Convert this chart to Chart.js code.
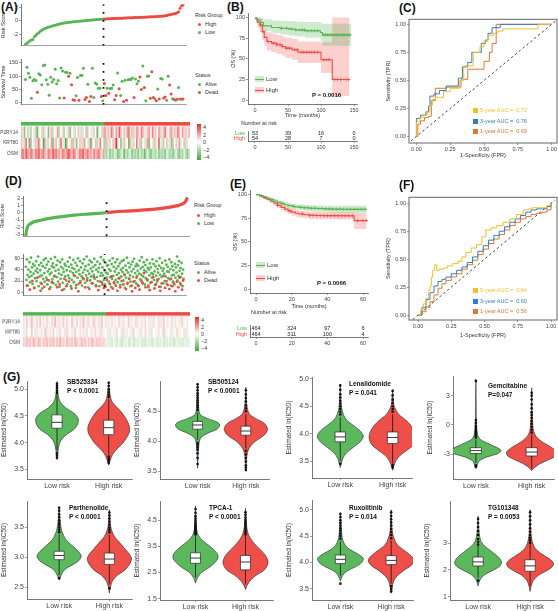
<!DOCTYPE html>
<html>
<head>
<meta charset="utf-8">
<script src="https://cdn.jsdelivr.net/npm/chart.js@4.4.1/dist/chart.umd.min.js"></script>
<style>
  body { margin: 0; background: #fff; }
  #fig { position: relative; width: 558px; height: 611px; overflow: hidden; background: #fff;
         font-family: "Liberation Sans", Arial, sans-serif; color: #222; }
  #fig canvas { position: absolute; }
  .t { position: absolute; white-space: pre; line-height: 1; }
  .panel { font-weight: bold; font-size: 12px; color: #111; }
  .lg { font-size: 5.5px; color: #333; }
  .dot { position: absolute; width: 3px; height: 3px; border-radius: 50%; }
  .sq { position: absolute; width: 5px; height: 5px; }
  .drug { font-weight: bold; font-size: 6.5px; color: #111; line-height: 9px; }
</style>
</head>
<body>
<div id="fig"></div>
<script>
// ---------- panel A: training cohort, 107 patients sorted by risk score ----------
const nLowA = 53
const riskA = [-3.5, -3.35, -3.2, -3.0, -2.9, -2.8, -2.4, -2.2, -1.95, -1.8, -1.6, -1.45, -1.3, -1.2, -1.1, -1.0,
  -0.95, -0.9, -0.8, -0.75, -0.7, -0.62, -0.55, -0.5, -0.45, -0.4, -0.36, -0.32, -0.29, -0.26, -0.24, -0.22,
  -0.2, -0.17, -0.15, -0.12, -0.1, -0.08, -0.06, -0.04, -0.02, 0.0, 0.02, 0.04, 0.06, 0.08, 0.1, 0.12, 0.14,
  0.16, 0.18, 0.2, 0.22,
  0.23, 0.24, 0.25, 0.26, 0.27, 0.28, 0.29, 0.3, 0.31, 0.32, 0.33, 0.34, 0.35, 0.36, 0.37, 0.38, 0.39, 0.4,
  0.41, 0.42, 0.43, 0.44, 0.45, 0.46, 0.47, 0.48, 0.49, 0.5, 0.51, 0.52, 0.53, 0.54, 0.55, 0.56, 0.57, 0.58,
  0.6, 0.62, 0.64, 0.66, 0.68, 0.7, 0.75, 0.8, 0.85, 0.9, 0.95, 1.0, 1.05, 1.15, 1.3, 1.8, 2.2, 2.3]
const survA = [88, 134, 111, 96, 17, 83, 88, 84, 40, 109, 105, 68, 140, 142, 87, 70, 29, 96, 78, 88,
  126, 72, 84, 18, 131, 120, 18, 115, 114, 100, 111, 68, 12, 10, 27, 95, 10, 103, 104, 130,
  13, 20, 70, 5, 24, 130, 20, 75, 70, 55, 55, 24, 8,
  73, 28, 55, 36, 54, 55, 67, 12, 28, 112, 53, 28, 81, 5, 85, 10, 87, 89, 88, 93,
  20, 90, 72, 82, 97, 50, 138, 58, 8, 100, 101, 17, 117, 20, 16, 8, 52, 15, 92, 90,
  18, 22, 10, 100, 67, 33, 16, 13, 10, 14, 58, 15, 14, 15]
const deadA = [0, 0, 0, 0, 0, 0, 0, 0, 1, 0, 0, 0, 0, 0, 0, 0, 0, 0, 0, 0, 0, 0, 0, 0, 0, 0, 1, 0, 0, 1,
  0, 1, 1, 1, 0, 0, 1, 0, 0, 0, 1, 1, 0, 1, 1, 0, 0, 0, 0, 0, 0, 1, 0,
  1, 1, 0, 1, 0, 0, 0, 1, 1, 0, 1, 0, 0, 1, 0, 1, 0, 0, 0, 0, 1, 0, 0, 0, 1, 1, 0, 1, 0, 0,
  0, 1, 1, 1, 0, 1, 0, 1, 0, 0, 1, 1, 0, 0, 1, 1, 0, 1, 0, 1, 0, 1, 0, 1]
const genes = ['P2RY14', 'KRT80', 'OSM']
const p2ry14A = [-1, 0.5, -2, 0, 1, -0.5, -1.5, 0, 0.5, -1, -2.5, 0.5, 0, -1, 1, -0.5, 0, -2, 0.5, 1, -1, 0, -0.5,
  1.5, -1, 0, 0.5, -1.5, 0, -0.5, 1, -2, 0, 0.5, -1, 0, 1, -0.5, -1, 0.5, 0, -1.5, 1, 0, -0.5, 0.5, -1, 0, -2.5,
  0.5, 0, -1, 1,
  1.5, 0.5, 1, -0.5, 2, 1, 0, 1.5, 0.5, 2.5, 1, 0, 1, -0.5, 1.5, 2, 0.5, 1, -1, 0.5, 1.5, 1, 0, 2, 1, 0.5, -0.5,
  1, 1.5, 0, 2, 0.5, 1, 0, 1.5, -1, 0.5, 1, 2, 0.5, 0, 1, 1.5, -0.5, 1, 0.5, 2, 1, 0, 1.5, 0.5, 1, -0.5, 1]
const krt80A = [1, 0.5, -1, 2, 0, -2.5, 1.5, 0, 0.5, -1, 1, 2, -0.5, 0, -3, 1, 0.5, -1, 0, 1.5, -2, 0.5, 1, 0, -1,
  2, 0.5, -0.5, -3, 1, 0, 0.5, -1.5, 1, 0.5, -2, 0, 1, 0.5, -1, 1.5, 0, -0.5, 1, -2.5, 0.5, 0, 1, -1, 0.5, 2, 0, -1,
  -1.5, 1, 0.5, -1, 0, 1, 0.5, 3.5, -1, 0, -2, 0.5, 1, -0.5, 0, -2.5, 1, 0.5, -1, 0, 2, -0.5, 1, -1.5, 0, 0.5,
  -1, 1.5, -2, 0, 0.5, 1, -1, 0, 2.5, -0.5, 0.5, -1.5, 0, 1, -0.5, 0.5, -2, 1, 0, -1, 0.5, 1.5, -0.5, 0, 1, -1, 0.5, 0]
const osmA = [1.5, 2, 1, 2.5, 1.5, 1, 2, 1.5, 0.5, 2, 1.5, 2.5, 1, 1.5, 2, 1, 0.5, 2, 1.5, 1, 2.5, 1.5, 2, 1, 1.5,
  0.5, 2, 1.5, 1, 2, 2.5, 1.5, 1, 2, 1.5, 0.5, 1, 2, 1.5, 2.5, 1, 1.5, 2, 1, 1.5, 0.5, 2, 1, 1.5, 2, 1, 0.5, 1.5,
  -1, -1.5, -0.5, -2, -1, -1.5, -0.5, -1, -2, -1.5, -1, -0.5, -2.5, -1, -1.5, -1, -0.5, -2, -1, -1.5, -1, -2,
  -0.5, -1.5, -1, -2.5, -1, -0.5, -1.5, -2, -1, -1, -1.5, -0.5, -2, -1, -1.5, -1, -2, -0.5, -1, -1.5, -1, -2, -1,
  -0.5, -1.5, -2, -1, -1.5, -0.5, -1, -2, -1]

// ---------- panel D: validation cohort, 928 patients ----------
const nLowD = 464
const nAllD = 928
const riskRankLowD = [1, 3, 9, 28, 93, 186, 278, 371, 464]
const riskLowD = [-3.3, -2.8, -2.05, -1.5, -1.0, -0.6, -0.32, -0.16, 0.0]
const riskRankHighD = [465, 557, 650, 742, 817, 872, 900, 919, 928]
const riskHighD = [0.02, 0.2, 0.33, 0.5, 0.73, 0.98, 1.2, 1.6, 2.1]
// survival (months) of alive patients, every third rank starting at rank 2
const aliveD = [45, 22, 58, 31, 12, 40, 27, 53, 18, 36, 61, 29, 44, 15, 50, 33, 8, 47, 25, 38,
  55, 20, 42, 35, 63, 11, 48, 28, 39, 17, 52, 30, 7, 46, 24, 57, 34, 19, 43, 60,
  26, 49, 14, 37, 54, 21, 41, 32, 9, 59, 35, 46, 23, 51, 16, 44, 29, 62, 38, 13,
  48, 27, 56, 19, 40, 33, 10, 53, 24, 45, 31, 58, 17, 42, 36, 6, 50, 28, 47, 21,
  39, 14, 54, 30, 45, 25, 61, 37, 11, 49, 22, 43, 34, 57, 18, 41, 29, 52, 8, 36,
  47, 26, 60, 15, 39, 32, 55, 20, 44, 28, 12, 51, 35, 23, 58, 40, 17, 46, 30, 63,
  25, 38, 9, 49, 33, 56, 21, 42, 28, 53, 37, 16, 45, 31, 59, 24, 48, 13, 40, 27,
  54, 20, 36, 43, 11, 50, 29, 62, 34, 18, 44, 30, 57, 22, 39, 14, 52, 35, 26, 47,
  33, 48, 19, 41, 56, 27, 38, 10, 50, 24, 60, 29, 45, 16, 37, 53, 22, 42, 31, 58,
  18, 46, 34, 25, 51, 13, 40, 28, 55, 36, 43, 21, 57, 32, 8, 47, 26, 39, 61, 15,
  35, 52, 24, 44, 30, 19, 49, 37, 12, 54, 27, 41, 59, 20, 34, 46, 16, 50, 29, 38,
  47, 11, 33, 56, 23, 42, 31, 62, 18, 45, 28, 53, 39, 14, 48, 25, 36, 57, 21, 43,
  9, 40, 30, 51, 17, 44, 34, 26, 58, 32, 50, 22, 37, 13, 46, 29, 55, 19, 41, 35,
  24, 47, 60, 31, 10, 43, 27, 52, 38, 16, 42, 33, 20, 56, 28, 49, 15, 37, 45, 25,
  36, 58, 23, 41, 12, 53, 30, 46, 19, 39, 31, 14, 50, 26, 44, 35, 63, 21, 48, 29,
  55, 38, 17, 43, 27, 52, 33, 11, 40, 24]
const deadRankD = [8, 25, 40, 52, 70, 88, 95, 110, 128, 140, 155, 170, 186, 200, 215, 228, 240, 255, 270, 285,
  298, 310, 322, 338, 350, 362, 375, 390, 402, 415, 428, 440, 452, 460,
  470, 478, 486, 495, 505, 512, 520, 530, 540, 548, 556, 565, 575, 582, 590, 600, 610, 618, 626, 635,
  645, 652, 660, 670, 680, 688, 696, 705, 715, 722, 730, 740, 750, 758, 766, 775, 785, 792, 800, 810,
  820, 828, 836, 845, 855, 862, 870, 880, 890, 898, 905, 912, 920, 926]
const deadTimeD = [12, 5, 20, 8, 26, 3, 15, 10, 22, 6, 18, 28, 9, 14, 4, 24, 11, 19, 7, 30,
  13, 2, 17, 25, 9, 21, 6, 16, 27, 11, 4, 19, 14, 8,
  10, 22, 4, 15, 28, 7, 18, 12, 3, 25, 9, 20, 14, 31, 6, 17, 24, 11, 2, 19,
  8, 26, 13, 5, 21, 16, 34, 9, 23, 12, 4, 18, 27, 7, 14, 22, 10, 3, 16, 29,
  8, 20, 13, 6, 24, 11, 17, 2, 19, 9, 26, 14, 5, 21]
// heatmap columns, each column = 8 neighbouring patients
const p2ry14D = [0.5, 0.2, 0.8, 0, 0.4, 1, 0.3, -0.3, 0.6, 0.2, 0.9, 0.1, 0.5, -0.2, 0.7, 0.3, 0, 0.6, 0.4, 1.1,
  0.2, 0.5, -0.4, 0.3, 0.8, 0.1, 0.6, 0.3, 0, 0.9, 0.4, 0.2, 0.7, -0.2, 0.5, 0.3, 1, 0.1, 0.4, 0.6,
  0.2, -0.3, 0.8, 0.4, 0.1, 0.6, 0.3, 0.9, 0, 0.5,
  0.3, -0.5, 0.2, 0.6, -0.2, 0.4, 0, 0.7, -0.4, 0.3, 0.5, -0.1, 0.2, 0.8, -0.3, 0.4, 0.1, 0.6, -0.6, 0.3,
  0.2, 0.5, -0.2, 0.7, 0, 0.4, -0.4, 0.3, 0.6, -0.1, 0.2, 0.5, -0.5, 0.3, 0.8, 0, 0.4, -0.3, 0.2, 0.6,
  -0.2, 0.5, 0.1, 0.3, -0.4, 0.7, 0.2, 0, 0.4, -0.1]
const krt80D = [0.3, -0.4, 0.6, 0, -0.2, 0.8, 0.1, -0.6, 0.4, 0.2, -0.3, 0.5, 0, 0.9, -0.5, 0.2, 0.4, -0.2, 0.7, 0,
  -0.4, 0.3, 0.6, -0.1, 0.2, 0.5, -0.7, 0.3, 0, 0.4, -0.3, 0.8, 0.1, -0.2, 0.5, 0.2, -0.5, 0.3, 0.6, 0,
  -0.3, 0.4, 0.1, 0.7, -0.2, 0.3, -0.6, 0.5, 0.2, 0,
  -0.3, 0.4, -0.6, 0.1, 0.3, -0.4, 0.6, 0, -0.2, 0.5, -0.7, 0.2, 0.4, -0.1, 0.3, -0.5, 0.7, 0, -0.3, 0.2,
  0.5, -0.4, 0.1, 0.6, -0.2, 0.3, -0.6, 0.4, 0, 0.2, -0.3, 0.5, -0.1, 0.3, 0.8, -0.4, 0.2, 0, -0.5, 0.4,
  0.1, -0.2, 0.6, -0.3, 0.2, 0, 0.4, -0.6, 0.3, 0.1]
const osmD = [0.8, 0.5, 1, 0.6, 0.9, 0.4, 1.2, 0.7, 0.5, 1, 0.8, 0.3, 0.9, 0.6, 1.1, 0.5, 0.8, 0.7, 1, 0.4,
  0.9, 0.6, 1.2, 0.5, 0.8, 0.3, 1, 0.7, 0.6, 0.9, 0.5, 1.1, 0.8, 0.4, 0.7, 1, 0.6, 0.9, 0.3, 0.8,
  0.5, 1, 0.7, 0.4, 0.9, 0.6, 0.8, 0.5, 0.7, 0.4,
  -0.3, -0.6, -0.4, -0.8, -0.2, -0.5, -0.7, -0.3, -0.6, -0.9, -0.4, -0.5, -0.2, -0.7, -0.6, -0.3, -0.8, -0.5, -0.4, -0.6,
  -0.2, -0.7, -0.5, -0.9, -0.3, -0.6, -0.4, -0.8, -0.5, -0.3, -0.7, -0.4, -0.6, -0.2, -0.8, -0.5, -0.6, -0.3, -0.7, -0.4,
  -0.9, -0.5, -0.3, -0.6, -0.4, -0.7, -0.5, -0.3, -0.6, -0.4]

// ---------- panel B / E: Kaplan-Meier ----------
const kmTimeLowB = [0, 2.5, 7.6, 12.7, 25, 38, 51, 61, 76, 99, 102, 146]
const kmLowB = [100, 97, 94, 90, 88, 87, 86, 85, 84, 82, 79, 79]
const kmLowUpB = [100, 100, 99.5, 98, 96.5, 96, 95.5, 95, 94.5, 93.5, 92.5, 92.5]
const kmLowLoB = [100, 93, 88.5, 84, 81, 79.5, 78, 77, 75.5, 72, 66, 66]
const kmTimeHighB = [0, 1.5, 4, 7.6, 11, 14, 18, 25, 33, 41, 46, 56, 65, 100, 117, 143]
const kmHighB = [100, 98, 94, 91, 83, 76, 71, 69, 67, 65, 63, 61, 58, 49, 25, 25]
const kmHighUpB = [100, 100, 99.5, 98, 92, 86, 82, 80, 78.5, 77, 75.5, 74, 71, 70, 100, 100]
const kmHighLoB = [100, 94, 87, 83, 73, 66, 60, 58, 56, 54, 51, 49, 45, 33, 5, 5]
const censorLowB = [40, 48, 55, 62, 68, 72, 75, 80, 85, 90, 95, 104, 107, 110, 113, 116, 120, 123, 126, 130, 133, 136, 140, 143]
const censorHighB = [8, 12, 20, 28, 33, 38, 42, 48, 52, 60, 64, 70, 74, 78, 82, 86, 90, 95, 104, 108, 112, 120, 125, 130, 138, 142]
const riskTimesB = [0, 50, 100, 150]
const atRiskLowB = [53, 39, 16, 0]
const atRiskHighB = [54, 28, 7, 0]

const kmTimeE = [0, 2, 4, 6, 8, 10, 12, 14, 16, 18, 20, 22, 24, 27, 30, 34, 38, 42, 48, 62]
const kmLowE = [100, 98.8, 97.5, 96, 94.8, 93.2, 91.8, 90.5, 89.2, 88.3, 87.6, 87, 86.6, 86, 85.6, 85.2, 84.9, 84.6, 84.4, 84.4]
const kmLowUpE = [100, 99.6, 98.8, 97.6, 96.6, 95.2, 94, 92.9, 91.8, 91, 90.4, 89.9, 89.6, 89.1, 88.8, 88.5, 88.3, 88.1, 88.1, 88.1]
const kmLowLoE = [100, 97.8, 96.1, 94.3, 92.9, 91.2, 89.6, 88.1, 86.6, 85.6, 84.8, 84.1, 83.6, 82.9, 82.4, 81.9, 81.5, 81.1, 80.7, 80.7]
const kmTimeHighE = [0, 2, 4, 6, 8, 10, 12, 14, 16, 18, 20, 22, 24, 27, 30, 34, 38, 45, 55, 62]
const kmHighE = [100, 98.5, 96.8, 95, 93, 90.8, 88.6, 86.5, 84.6, 82.8, 81.4, 80.2, 79.4, 78.6, 78.1, 77.8, 77.7, 77.6, 72.5, 72.5]
const kmHighUpE = [100, 99.5, 98.3, 96.9, 95.2, 93.3, 91.3, 89.4, 87.7, 86.1, 84.9, 83.8, 83, 82.3, 81.9, 81.6, 81.5, 81.6, 80.8, 80.8]
const kmHighLoE = [100, 97.4, 95.2, 93.1, 90.8, 88.3, 85.9, 83.6, 81.5, 79.5, 78, 76.6, 75.8, 74.9, 74.3, 74, 73.9, 73.6, 63.5, 63.5]
const censorLowE = [3, 9, 15, 21, 25, 27, 29, 31, 33, 35, 37, 39, 41, 43, 45, 47, 49, 51, 53, 55, 57, 59, 61]
const censorHighE = [5, 12, 19, 26, 30, 32, 34, 36, 38, 40, 42, 44, 46, 48, 50, 52, 54, 57, 60, 62]
const riskTimesE = [0, 20, 40, 60]
const atRiskLowE = [464, 324, 97, 6]
const atRiskHighE = [464, 311, 100, 4]

// ---------- panel C / F: time-dependent ROC ----------
const rocLabels = ['5-year AUC =  0.72', '3-year AUC =  0.76', '1-year AUC =  0.69']
const rocLabelsF = ['5-year AUC =  0.64', '3-year AUC =  0.60', '1-year AUC =  0.56']
const fpr5C = [0, 0, 0.02, 0.05, 0.08, 0.1, 0.12, 0.14, 0.2, 0.25, 0.32, 0.35, 0.42, 0.47, 0.5, 0.53, 0.57, 0.6, 0.64, 0.9, 1]
const tpr5C = [0, 0.13, 0.17, 0.19, 0.22, 0.28, 0.33, 0.35, 0.4, 0.43, 0.5, 0.63, 0.75, 0.8, 0.85, 0.9, 0.92, 0.94, 0.96, 1, 1]
const fpr3C = [0, 0, 0.02, 0.03, 0.07, 0.09, 0.1, 0.13, 0.17, 0.22, 0.31, 0.34, 0.38, 0.41, 0.48, 0.51, 0.53, 0.56, 0.62, 1]
const tpr3C = [0, 0.16, 0.16, 0.19, 0.22, 0.27, 0.36, 0.38, 0.41, 0.45, 0.52, 0.62, 0.66, 0.75, 0.83, 0.86, 0.92, 0.97, 1, 1]
const fpr1C = [0, 0.01, 0.03, 0.06, 0.09, 0.11, 0.14, 0.22, 0.31, 0.33, 0.38, 0.47, 0.5, 0.54, 0.56, 0.59, 1]
const tpr1C = [0, 0.11, 0.14, 0.17, 0.18, 0.32, 0.43, 0.44, 0.44, 0.51, 0.6, 0.6, 0.67, 0.75, 0.83, 1, 1]
const fpr5F = [0, 0.02, 0.04, 0.06, 0.08, 0.09, 0.1, 0.11, 0.125, 0.14, 0.16, 0.19, 0.22, 0.26, 0.3, 0.33, 0.36, 0.4,
  0.44, 0.48, 0.51, 0.55, 0.59, 0.64, 0.69, 0.74, 0.79, 0.83, 0.86, 0.9, 0.94, 0.97, 1]
const tpr5F = [0, 0.05, 0.1, 0.15, 0.22, 0.26, 0.34, 0.4, 0.45, 0.4, 0.41, 0.42, 0.44, 0.46, 0.48, 0.52, 0.56, 0.6,
  0.63, 0.7, 0.76, 0.78, 0.8, 0.83, 0.86, 0.9, 0.94, 0.95, 0.96, 0.96, 0.96, 0.98, 1]
const fprF = [0, 0.03, 0.06, 0.09, 0.12, 0.15, 0.18, 0.21, 0.25, 0.29, 0.33, 0.37, 0.41, 0.45, 0.49, 0.53, 0.57,
  0.61, 0.65, 0.69, 0.73, 0.77, 0.81, 0.85, 0.89, 0.93, 0.97, 1]
const tpr3F = [0, 0.07, 0.14, 0.2, 0.26, 0.3, 0.32, 0.34, 0.37, 0.4, 0.43, 0.47, 0.52, 0.57, 0.62, 0.67, 0.71,
  0.75, 0.79, 0.83, 0.86, 0.89, 0.92, 0.94, 0.95, 0.95, 0.97, 1]
const tpr1F = [0, 0.03, 0.07, 0.12, 0.18, 0.24, 0.28, 0.31, 0.34, 0.37, 0.41, 0.45, 0.49, 0.54, 0.59, 0.64, 0.68,
  0.72, 0.76, 0.8, 0.83, 0.86, 0.88, 0.9, 0.91, 0.92, 0.94, 1]

// ---------- panel G: drug sensitivity violins ----------
// y/w = density outline (height, half width), box = [lower whisker, q1, median, q3, upper whisker]
const groupLabels = ['Low risk', 'High risk']
const drugNames = ['SB525334', 'SB505124', 'Lenalidomide', 'Gemcitabine', 'Parthenolide', 'TPCA-1', 'Ruxolitinib', 'TG101348']
const drugP = ['P < 0.0001', 'P < 0.0001', 'P = 0.041', 'P=0.047', 'P < 0.0001', 'P < 0.0001', 'P = 0.014', 'P = 0.0053']
const drugTicks = [[3.5, 4.0, 4.5, 5.0], [3.5, 4.0, 4.5], [3.5, 4.0, 4.5, 5.0], [-3, 0, 3],
  [2.5, 3.0, 3.5], [1.5, 2.5, 3.5, 4.5], [3.5, 4.0, 4.5, 5.0], [1, 2, 3]]
const sb525334 = {
  low: { y: [3.68, 3.85, 3.95, 4.05, 4.15, 4.25, 4.35, 4.45, 4.55, 4.65, 4.75, 4.85, 5.0, 5.15],
         w: [0, 0.02, 0.04, 0.08, 0.18, 0.33, 0.4, 0.41, 0.33, 0.17, 0.07, 0.03, 0.01, 0],
         box: [3.85, 4.27, 4.38, 4.52, 4.9], out: [3.72, 3.76, 3.8, 4.93, 4.97, 5.02, 5.06, 5.1] },
  high: { y: [3.58, 3.7, 3.8, 3.9, 4.0, 4.1, 4.2, 4.3, 4.4, 4.5, 4.6, 4.7, 4.8, 5.0, 5.15],
          w: [0, 0.04, 0.09, 0.18, 0.28, 0.35, 0.4, 0.4, 0.36, 0.3, 0.22, 0.12, 0.05, 0.01, 0],
          box: [3.78, 4.15, 4.28, 4.42, 4.82], out: [3.62, 3.66, 3.7, 3.74, 4.86, 4.9, 4.95, 5.0, 5.06, 5.12] }
}
const sb505124 = {
  low: { y: [3.55, 3.75, 3.9, 4.05, 4.13, 4.2, 4.27, 4.32, 4.38, 4.45, 4.6, 4.9, 4.97],
         w: [0, 0.01, 0.02, 0.06, 0.2, 0.4, 0.46, 0.4, 0.2, 0.05, 0.02, 0.005, 0],
         box: [4.02, 4.2, 4.27, 4.33, 4.48],
         out: [3.62, 3.72, 3.8, 3.86, 3.9, 3.94, 3.97, 4.52, 4.56, 4.6, 4.64, 4.68, 4.72, 4.76, 4.8, 4.85, 4.9, 4.95] },
  high: { y: [3.5, 3.65, 3.8, 3.9, 4.0, 4.1, 4.2, 4.3, 4.38, 4.45, 4.55, 4.7, 4.9],
          w: [0, 0.01, 0.03, 0.08, 0.2, 0.38, 0.45, 0.38, 0.2, 0.08, 0.03, 0.01, 0],
          box: [3.88, 4.1, 4.17, 4.25, 4.45],
          out: [3.52, 3.56, 3.6, 3.66, 3.72, 3.78, 3.84, 4.5, 4.55, 4.6, 4.66, 4.72, 4.78, 4.85] }
}
const lenalidomide = {
  low: { y: [3.38, 3.45, 3.55, 3.65, 3.75, 3.85, 3.95, 4.05, 4.15, 4.25, 4.35, 4.5, 4.7, 4.9],
         w: [0, 0.02, 0.05, 0.12, 0.25, 0.38, 0.44, 0.38, 0.25, 0.12, 0.06, 0.02, 0.008, 0],
         box: [3.5, 3.85, 3.94, 4.03, 4.3], out: [3.45, 4.35, 4.4, 4.45, 4.5, 4.55, 4.6, 4.66, 4.72, 4.8, 4.88] },
  high: { y: [3.33, 3.4, 3.5, 3.6, 3.7, 3.8, 3.93, 4.05, 4.15, 4.25, 4.35, 4.5, 4.65, 4.8],
          w: [0, 0.02, 0.06, 0.14, 0.28, 0.4, 0.45, 0.42, 0.35, 0.25, 0.12, 0.03, 0.01, 0],
          box: [3.45, 3.82, 3.93, 4.03, 4.35], out: [3.38, 3.42, 4.4, 4.45, 4.5, 4.56, 4.62, 4.7, 4.78] }
}
const gemcitabine = {
  low: { y: [-4.5, -4.2, -3.7, -3.3, -3.0, -2.7, -2.5, -2.0, -1.5, -1.0, 0, 2, 4.7],
         w: [0, 0.02, 0.06, 0.2, 0.38, 0.45, 0.43, 0.25, 0.08, 0.03, 0.01, 0.005, 0],
         box: [-3.9, -2.95, -2.65, -2.35, -1.5], out: [-4.3, -4.15, -1.3, -1.1, -0.9, -0.7, -0.5, -0.3, -0.1, 0.2, 0.5, 4.5] },
  high: { y: [-4.7, -4.4, -4.0, -3.6, -3.2, -2.8, -2.3, -1.8, -1.2, -0.5, 1, 3.8],
          w: [0, 0.05, 0.15, 0.3, 0.43, 0.45, 0.35, 0.2, 0.08, 0.03, 0.01, 0],
          box: [-4.5, -3.2, -2.8, -2.35, -1.0], out: [-0.8, -0.5, -0.2, 0.1, 0.4, 0.7, 1.0, 1.3, 1.7, 2.1, 2.6, 3.0, 3.3] }
}
const parthenolide = {
  low: { y: [2.62, 2.72, 2.8, 2.88, 2.95, 3.02, 3.1, 3.2, 3.3, 3.45, 3.6, 3.85],
         w: [0, 0.05, 0.12, 0.28, 0.4, 0.44, 0.38, 0.25, 0.13, 0.05, 0.02, 0],
         box: [2.7, 2.96, 3.03, 3.1, 3.38], out: [2.65, 3.42, 3.46, 3.5, 3.54, 3.58, 3.62, 3.67, 3.72, 3.78, 3.83] },
  high: { y: [2.4, 2.5, 2.6, 2.7, 2.78, 2.88, 2.97, 3.05, 3.15, 3.25, 3.35, 3.5, 3.8],
          w: [0, 0.02, 0.06, 0.16, 0.3, 0.4, 0.44, 0.4, 0.3, 0.2, 0.1, 0.03, 0],
          box: [2.55, 2.88, 2.97, 3.07, 3.38], out: [2.48, 3.42, 3.46, 3.5, 3.55, 3.6, 3.65, 3.7, 3.75] }
}
const tpca1 = {
  low: { y: [2.1, 2.3, 2.5, 2.7, 2.9, 3.05, 3.2, 3.4, 3.6, 3.8, 4.0, 4.3, 5.04],
         w: [0, 0.04, 0.12, 0.28, 0.4, 0.45, 0.44, 0.35, 0.22, 0.1, 0.04, 0.015, 0],
         box: [2.3, 2.85, 3.05, 3.25, 3.9],
         out: [3.95, 4.0, 4.05, 4.1, 4.15, 4.2, 4.25, 4.3, 4.38, 4.46, 4.55, 4.65, 4.78, 4.92] },
  high: { y: [1.85, 2.0, 2.2, 2.4, 2.6, 2.85, 3.0, 3.2, 3.4, 3.6, 3.8, 4.0, 4.3, 4.95],
          w: [0, 0.03, 0.1, 0.22, 0.38, 0.45, 0.44, 0.38, 0.28, 0.18, 0.1, 0.05, 0.02, 0],
          box: [2.05, 2.6, 2.9, 3.15, 3.9], out: [3.95, 4.02, 4.1, 4.18, 4.26, 4.34, 4.42, 4.5, 4.6, 4.7, 4.8] }
}
const ruxolitinib = {
  low: { y: [3.65, 3.7, 3.78, 3.85, 3.92, 4.0, 4.08, 4.17, 4.25, 4.35, 4.5, 4.95],
         w: [0, 0.02, 0.06, 0.15, 0.3, 0.42, 0.45, 0.33, 0.18, 0.08, 0.03, 0],
         box: [3.75, 3.98, 4.06, 4.14, 4.4], out: [3.6, 4.45, 4.5, 4.55, 4.6, 4.65, 4.7, 4.75, 4.8, 4.86, 4.92] },
  high: { y: [3.42, 3.5, 3.65, 3.75, 3.85, 3.95, 4.03, 4.1, 4.2, 4.3, 4.4, 4.6, 5.0],
          w: [0, 0.015, 0.05, 0.12, 0.25, 0.4, 0.45, 0.42, 0.3, 0.16, 0.08, 0.02, 0],
          box: [3.6, 3.96, 4.04, 4.13, 4.42], out: [3.45, 3.5, 3.55, 4.46, 4.52, 4.58, 4.64, 4.7, 4.76, 4.82, 4.88, 4.95] }
}
const tg101348 = {
  low: { y: [1.4, 1.55, 1.7, 1.85, 2.0, 2.15, 2.3, 2.5, 2.7, 2.9, 3.1, 3.4, 4.0],
         w: [0, 0.02, 0.06, 0.15, 0.3, 0.42, 0.45, 0.38, 0.25, 0.12, 0.05, 0.02, 0],
         box: [1.7, 2.15, 2.3, 2.48, 2.9], out: [1.6, 2.95, 3.05, 3.15, 3.3, 3.45, 3.6, 3.75, 3.9] },
  high: { y: [1.2, 1.4, 1.6, 1.8, 1.95, 2.1, 2.25, 2.4, 2.6, 2.8, 3.0, 3.3, 4.25],
          w: [0, 0.02, 0.06, 0.16, 0.3, 0.42, 0.45, 0.38, 0.22, 0.1, 0.05, 0.02, 0],
          box: [1.4, 1.95, 2.15, 2.38, 2.95], out: [3.0, 3.1, 3.2, 3.3, 3.42, 3.55, 3.7, 3.85, 4.0, 4.15] }
}
const drugData = [sb525334, sb505124, lenalidomide, gemcitabine, parthenolide, tpca1, ruxolitinib, tg101348]

// ---------- styling ----------
const GREEN = '#57b553'
const RED = '#ee4a45'
const VGREEN = '#5cb85c'
const VRED = '#ee5049'
const BAND_G = 'rgba(87,181,83,0.28)'
const BAND_R = 'rgba(238,74,69,0.26)'
const ROC_COLORS = ['#f4bf2a', '#2f7fc8', '#e0772f']
const AXIS = '#555'

Chart.defaults.font.family = '"Liberation Sans", Arial, sans-serif'
Chart.defaults.font.size = 6
Chart.defaults.color = '#333'
Chart.defaults.animation = false
Chart.defaults.plugins.legend.display = false
Chart.defaults.plugins.tooltip.enabled = false

// box around ROC plots
Chart.register({
  id: 'frame',
  afterDraw(chart, args, opts) {
    if (!opts.on) return
    const a = chart.chartArea, ctx = chart.ctx
    ctx.save()
    ctx.strokeStyle = '#666'
    ctx.lineWidth = 1
    ctx.strokeRect(a.left, a.top, a.width, a.height)
    ctx.restore()
  }
})
// numbers of the risk table
Chart.register({
  id: 'riskTable',
  afterDatasetsDraw(chart, args, opts) {
    if (!opts.on) return
    const ctx = chart.ctx
    ctx.save()
    ctx.font = '5.5px "Liberation Sans", Arial, sans-serif'
    ctx.fillStyle = '#222'
    ctx.textAlign = 'center'
    ctx.textBaseline = 'middle'
    chart.data.datasets.forEach((ds, di) => {
      chart.getDatasetMeta(di).data.forEach((pt, i) => ctx.fillText(ds.counts[i], pt.x, pt.y))
    })
    ctx.restore()
  }
})

const fig = document.getElementById('fig')

function canvasAt(x, y, w, h) {
  const c = document.createElement('canvas')
  c.width = w
  c.height = h
  c.style.left = x + 'px'
  c.style.top = y + 'px'
  c.style.width = w + 'px'
  c.style.height = h + 'px'
  fig.appendChild(c)
  return c
}

function text(str, x, y, cls, css) {
  const d = document.createElement('div')
  d.className = 't ' + (cls || '')
  d.textContent = str
  d.style.left = x + 'px'
  d.style.top = y + 'px'
  Object.assign(d.style, css || {})
  fig.appendChild(d)
  return d
}

function box(cls, x, y, color) {
  const d = document.createElement('div')
  d.className = cls
  d.style.left = x + 'px'
  d.style.top = y + 'px'
  d.style.background = color
  fig.appendChild(d)
}

// linear axis with fixed thickness
function axis(o) {
  return {
    type: 'linear',
    min: o.min,
    max: o.max,
    reverse: !!o.reverse,
    display: o.display !== false,
    afterFit: s => {
      if (o.size == null) return
      if (s.isHorizontal()) s.height = o.size
      else s.width = o.size
    },
    afterBuildTicks: o.ticks ? s => { s.ticks = o.ticks.map(v => ({ value: v })) } : undefined,
    ticks: {
      display: o.labels !== false,
      padding: o.pad == null ? 1 : o.pad,
      font: { size: o.fs || 6 },
      color: o.tickColor || '#444',
      maxRotation: 0,
      autoSkip: false,
      callback: o.fmt || (v => v)
    },
    grid: { display: o.marks !== false, drawOnChartArea: false, tickLength: 2, color: AXIS, lineWidth: 0.6 },
    border: { display: o.border !== false, color: o.borderColor || AXIS, width: 0.8 },
    title: o.title
      ? { display: true, text: o.title, font: { size: o.tfs || 6 }, padding: { top: 0, bottom: 1 }, color: '#333' }
      : { display: false }
  }
}

function cutLine(x, lo, hi) {
  return {
    type: 'line', data: [{ x, y: lo }, { x, y: hi }], borderColor: '#111', borderWidth: 1.8,
    borderDash: [1.8, 6.2], pointRadius: 0, order: 0
  }
}

function scatterChart(rect, datasets, xr, yopt) {
  return new Chart(canvasAt(rect[0], rect[1], rect[2], rect[3]), {
    type: 'scatter',
    data: { datasets },
    options: {
      responsive: false,
      layout: { padding: { top: 2, right: 0, left: 0, bottom: 0 } },
      scales: {
        x: axis({ min: xr[0], max: xr[1], size: 2, labels: false, marks: false, borderColor: '#888' }),
        y: axis(yopt)
      }
    }
  })
}

function heatColor(v, scale) {
  const t = Math.min(Math.abs(v) / scale, 1)
  const c = v >= 0 ? [234, 44, 40] : [62, 168, 62]
  const m = k => Math.round(255 + (c[k] - 255) * t)
  return `rgb(${m(0)},${m(1)},${m(2)})`
}

function heatmap(rect, axisW, rowH, rows, nLow, scale) {
  const gap = 2, barH = 4
  const total = rows.length * rowH + gap + barH
  const labels = rows[0].map((v, i) => i + 1)
  const datasets = rows.map((vals, k) => {
    const y1 = total - barH - gap - k * rowH
    return {
      data: vals.map(() => [y1 - rowH, y1]),
      backgroundColor: vals.map(v => heatColor(v, scale))
    }
  })
  datasets.push({
    data: labels.map(() => [total - barH, total]),
    backgroundColor: labels.map((l, i) => i < nLow ? GREEN : RED)
  })
  datasets.forEach(d => Object.assign(d, { barPercentage: 1, categoryPercentage: 1, grouped: false, borderWidth: 0 }))
  const centers = genes.map((g, k) => total - barH - gap - k * rowH - rowH / 2)
  new Chart(canvasAt(rect[0], rect[1], rect[2], total), {
    type: 'bar',
    data: { labels, datasets },
    options: {
      responsive: false,
      scales: {
        x: { display: false },
        y: axis({
          min: 0, max: total, size: axisW, ticks: centers, marks: false, border: false, fs: 4.8, pad: 1,
          fmt: v => genes[centers.findIndex(c => Math.abs(c - v) < 0.01)]
        })
      }
    }
  })
}

function colorBar(x, y, h) {
  const d = document.createElement('div')
  d.style.cssText = `position:absolute;left:${x}px;top:${y}px;width:4px;height:${h}px;` +
    `background:linear-gradient(to bottom,#ea2c28,#fff 50%,#3ea83e)`
  fig.appendChild(d)
  const labs = ['4', '2', '0', '\u22122', '\u22124']
  labs.forEach((l, i) => text(l, x + 6, y + 1 + i * (h - 6) / 4, 'lg'))
}

function survAt(ts, ss, t) {
  let v = ss[0]
  ts.forEach((tt, i) => { if (tt <= t) v = ss[i] })
  return v
}

function kmChart(rect, yW, xr, yr, xTicks, groups) {
  const ds = []
  groups.forEach(g => {
    ds.push({ type: 'line', data: g.t.map((t, i) => ({ x: t, y: g.up[i] })), stepped: true, borderWidth: 0,
      borderColor: 'transparent', pointRadius: 0, backgroundColor: g.band, fill: '+1', order: 3 })
    ds.push({ type: 'line', data: g.t.map((t, i) => ({ x: t, y: g.lo[i] })), stepped: true, borderWidth: 0,
      borderColor: 'transparent', pointRadius: 0, fill: false, order: 3 })
  })
  groups.forEach(g => {
    ds.push({ type: 'line', data: g.t.map((t, i) => ({ x: t, y: g.s[i] })), stepped: true, borderWidth: 1.1,
      borderColor: g.color, pointRadius: 0, fill: false, order: 1 })
    ds.push({ data: g.censor.map(t => ({ x: t, y: survAt(g.t, g.s, t) })), pointStyle: 'cross', pointRadius: 1.8,
      pointBorderWidth: 0.7, pointBorderColor: g.color, order: 0 })
  })
  new Chart(canvasAt(rect[0], rect[1], rect[2], rect[3]), {
    type: 'scatter',
    data: { datasets: ds },
    options: {
      responsive: false,
      layout: { padding: { top: 2, right: 5, left: 0, bottom: 0 } },
      scales: {
        x: axis({ min: xr[0], max: xr[1], ticks: xTicks, size: rect[4], title: 'Time (months)', fs: 5.5, tfs: 5.5 }),
        y: axis({ min: yr[0], max: yr[1], ticks: [0, 25, 50, 75, 100], size: yW, title: 'OS (%)', fs: 5.5, tfs: 5.5 })
      }
    }
  })
}

function riskTable(rect, yW, xr, xTicks, lowCounts, highCounts) {
  new Chart(canvasAt(rect[0], rect[1], rect[2], rect[3]), {
    type: 'scatter',
    data: {
      datasets: [
        { data: xTicks.map(t => ({ x: t, y: 0 })), counts: lowCounts, pointRadius: 0 },
        { data: xTicks.map(t => ({ x: t, y: 1 })), counts: highCounts, pointRadius: 0 }
      ]
    },
    options: {
      responsive: false,
      layout: { padding: { top: 0, right: 5, left: 0, bottom: 0 } },
      plugins: { riskTable: { on: true } },
      scales: {
        x: axis({ min: xr[0], max: xr[1], ticks: xTicks, size: 9, fs: 5.5 }),
        y: axis({ min: -0.5, max: 1.5, reverse: true, ticks: [0, 1], size: yW, fs: 5.5, marks: false,
          fmt: v => (v === 0 ? 'Low' : 'High'),
          tickColor: c => (c.tick && c.tick.value === 1 ? RED : GREEN) })
      }
    }
  })
}

function rocChart(rect, xr, yr, xH, curves) {
  const ds = curves.map(c => ({
    type: 'line', data: c.fpr.map((f, i) => ({ x: f, y: c.tpr[i] })), stepped: true, borderColor: c.color,
    borderWidth: 1, pointRadius: 0, fill: false
  }))
  ds.push({ type: 'line', data: [{ x: -0.04, y: -0.04 }, { x: 1.03, y: 1.03 }], borderColor: '#333',
    borderWidth: 0.9, borderDash: [2.5, 2.5], pointRadius: 0 })
  const fmt = v => v.toFixed(2)
  new Chart(canvasAt(rect[0], rect[1], rect[2], rect[3]), {
    type: 'scatter',
    data: { datasets: ds },
    options: {
      responsive: false,
      layout: { padding: { top: 2, right: 1, left: 0, bottom: 0 } },
      plugins: { frame: { on: true } },
      scales: {
        x: axis({ min: xr[0], max: xr[1], ticks: [0, 0.25, 0.5, 0.75, 1], size: xH, fmt, title: '1-Specificity (FPR)',
          fs: 5.5, tfs: 5.5, border: false }),
        y: axis({ min: yr[0], max: yr[1], ticks: [0, 0.25, 0.5, 0.75, 1], size: 24, fmt, title: 'Sensitivity (TPR)',
          fs: 5.5, tfs: 5.5, border: false })
      }
    }
  })
}

function rocLegend(x, y, labels) {
  labels.forEach((l, i) => {
    box('sq', x, y + i * 10.5, ROC_COLORS[i])
    text(l, x + 7, y + i * 10.5, 'lg', { color: ROC_COLORS[i], fontSize: '5.5px' })
  })
}

const BW = 0.1
function violinChart(k, geo) {
  const spec = drugData[k]
  const left = geo.ax - 27, top = geo.top - 2
  const ds = []
  ;[spec.low, spec.high].forEach((g, gi) => {
    const c = gi + 1, col = gi ? VRED : VGREEN
    const rightSide = g.y.map((y, i) => ({ x: c + g.w[i], y }))
    const leftSide = g.y.map((y, i) => ({ x: c - g.w[i], y })).reverse()
    ds.push({ type: 'line', data: rightSide.concat(leftSide, [rightSide[0]]), fill: 'shape', backgroundColor: col,
      borderColor: '#222', borderWidth: 0.6, pointRadius: 0, tension: 0.3, order: 5 })
    const [lo, q1, med, q3, hi] = g.box
    ds.push({ type: 'line', data: [{ x: c, y: lo }, { x: c, y: hi }], borderColor: '#111', borderWidth: 0.8,
      pointRadius: 0, tension: 0.0001, order: 4 })
    ds.push({ data: g.out.map(y => ({ x: c, y })), pointRadius: 1.3, pointBackgroundColor: '#111',
      pointBorderWidth: 0, order: 3 })
    ds.push({ type: 'line', data: [{ x: c - BW, y: q1 }, { x: c + BW, y: q1 }, { x: c + BW, y: q3 },
      { x: c - BW, y: q3 }, { x: c - BW, y: q1 }], fill: 'shape', backgroundColor: '#fff', borderColor: '#222',
      borderWidth: 0.7, pointRadius: 0, tension: 0.0001, order: 2 })
    ds.push({ type: 'line', data: [{ x: c - BW, y: med }, { x: c + BW, y: med }], borderColor: '#222',
      borderWidth: 0.9, pointRadius: 0, order: 1 })
  })
  const dec = drugTicks[k].every(Number.isInteger) ? 0 : 1
  new Chart(canvasAt(left, top, geo.right - left + 1, geo.bottom + 12 - top), {
    type: 'scatter',
    data: { datasets: ds },
    options: {
      responsive: false,
      layout: { padding: { top: 2, right: 1, left: 0, bottom: 0 } },
      scales: {
        x: axis({ min: geo.x[0], max: geo.x[1], ticks: [1, 2], size: 12, fs: 7, fmt: v => groupLabels[v - 1] }),
        y: axis({ min: geo.y[0], max: geo.y[1], ticks: drugTicks[k], size: 27, fs: 7, tfs: 6.5,
          title: 'Estimated ln(IC50)', fmt: v => v.toFixed(dec) })
      }
    }
  })
  text(drugNames[k] + '\n' + drugP[k], geo.lab[0], geo.lab[1], 'drug')
}

// ---------- panel A ----------
text('(A)', 1, 1, 'panel')
scatterChart([0, 0, 190, 50], [
  { data: riskA.map((v, i) => ({ x: i + 1, y: v })), pointRadius: 1.5, pointBorderWidth: 0,
    pointBackgroundColor: riskA.map((v, i) => (i < nLowA ? GREEN : RED)), order: 1 },
  cutLine(nLowA + 0.5, -3.73, 2.4)
], [-2, 109], { min: -3.73, max: 2.4, ticks: [-2, 0, 2], size: 21, title: 'Risk Score', fs: 5.5, tfs: 5.5 })
scatterChart([0, 55, 190, 54], [
  { data: survA.map((v, i) => ({ x: i + 1, y: v })).filter((p, i) => !deadA[i]), pointRadius: 1.5,
    pointBorderWidth: 0, pointBackgroundColor: GREEN, order: 2 },
  { data: survA.map((v, i) => ({ x: i + 1, y: v })).filter((p, i) => deadA[i]), pointRadius: 1.5,
    pointBorderWidth: 0, pointBackgroundColor: RED, order: 1 },
  cutLine(nLowA + 0.5, -6.8, 163.6)
], [-2, 109], { min: -6.8, max: 163.6, ticks: [0, 50, 100, 150], size: 21, title: 'Survival Time', fs: 5.5, tfs: 5.5 })
heatmap([0, 118, 190], 21, 13, [p2ry14A, krt80A, osmA], nLowA, 3.2)

text('Risk Group', 195, 13, 'lg')
box('dot', 198, 22.5, RED); text('High', 205, 22, 'lg')
box('dot', 198, 30.5, GREEN); text('Low', 205, 30, 'lg')
text('Status', 195, 73, 'lg')
box('dot', 198, 82.5, GREEN); text('Alive', 205, 82, 'lg')
box('dot', 198, 90.5, RED); text('Dead', 205, 90, 'lg')
colorBar(197, 124, 36)

// ---------- panel D ----------
text('(D)', 5, 175, 'panel')
scatterChart([0, 192, 190, 48], [
  { type: 'line', data: riskRankLowD.map((r, i) => ({ x: r, y: riskLowD[i] })), borderColor: GREEN, borderWidth: 3.2,
    pointRadius: 0, cubicInterpolationMode: 'monotone', order: 1 },
  { type: 'line', data: riskRankHighD.map((r, i) => ({ x: r, y: riskHighD[i] })), borderColor: RED, borderWidth: 3.2,
    pointRadius: 0, cubicInterpolationMode: 'monotone', order: 1 },
  cutLine(nLowD + 0.5, -3.2, 2.3)
], [-15, nAllD + 15], { min: -3.2, max: 2.3, ticks: [-3, -2, -1, 0, 1, 2], size: 23, title: 'Risk Score', fs: 5, tfs: 5 })
scatterChart([0, 250, 190, 49], [
  { data: aliveD.map((v, i) => ({ x: 3 * i + 2, y: v })), pointRadius: 1.4, pointBorderWidth: 0,
    pointBackgroundColor: GREEN, order: 2 },
  { data: deadRankD.map((r, i) => ({ x: r, y: deadTimeD[i] })), pointRadius: 1.4, pointBorderWidth: 0,
    pointBackgroundColor: RED, order: 1 },
  cutLine(nLowD + 0.5, -4.4, 67.5)
], [-15, nAllD + 15], { min: -4.4, max: 67.5, ticks: [0, 20, 40, 60], size: 23, title: 'Survival Time', fs: 5, tfs: 5 })
heatmap([0, 308, 190], 23, 12.3, [p2ry14D, krt80D, osmD], 50, 3.2)

text('Risk Group', 194, 203, 'lg')
box('dot', 197, 213.5, RED); text('High', 204, 213, 'lg')
box('dot', 197, 221.5, GREEN); text('Low', 204, 221, 'lg')
text('Status', 194, 261, 'lg')
box('dot', 197, 270.5, GREEN); text('Alive', 204, 270, 'lg')
box('dot', 197, 278.5, RED); text('Dead', 204, 278, 'lg')
colorBar(195, 317, 34)

// ---------- panel B ----------
text('(B)', 227, 1, 'panel')
kmChart([230, 9, 132, 111, 16], 18, [-10.6, 154.5], [-4.7, 104.7], riskTimesB, [
  { t: kmTimeLowB, s: kmLowB, up: kmLowUpB, lo: kmLowLoB, censor: censorLowB, color: GREEN, band: BAND_G },
  { t: kmTimeHighB, s: kmHighB, up: kmHighUpB, lo: kmHighLoB, censor: censorHighB, color: RED, band: BAND_R }
])
text('Number at risk', 241, 121, 'lg')
riskTable([230, 127, 132, 23], 18, [-10.6, 154.5], riskTimesB, atRiskLowB, atRiskHighB)

function kmKey(x, y, label, line, band) {
  const d = document.createElement('div')
  d.style.cssText = `position:absolute;left:${x}px;top:${y}px;width:9px;height:6px;background:${band}`
  const l = document.createElement('div')
  l.style.cssText = `position:absolute;left:0;top:2.5px;width:9px;height:1px;background:${line}`
  d.appendChild(l)
  fig.appendChild(d)
  text(label, x + 11, y, 'lg', { fontSize: '6px' })
}
kmKey(255, 76, 'Low', GREEN, BAND_G)
kmKey(255, 87, 'High', RED, BAND_R)
text('P = 0.0016', 312, 92, 'lg', { fontWeight: 'bold', fontSize: '6px', color: '#111' })

// ---------- panel E ----------
text('(E)', 230, 178, 'panel')
kmChart([232, 186, 141, 125, 18], 18, [-3.4, 62.8], [-4.1, 104.1], riskTimesE, [
  { t: kmTimeE, s: kmLowE, up: kmLowUpE, lo: kmLowLoE, censor: censorLowE, color: GREEN, band: BAND_G },
  { t: kmTimeHighE, s: kmHighE, up: kmHighUpE, lo: kmHighLoE, censor: censorHighE, color: RED, band: BAND_R }
])
text('Number at risk', 251, 310, 'lg')
riskTable([232, 321, 141, 25], 18, [-3.4, 62.8], riskTimesE, atRiskLowE, atRiskHighE)
kmKey(256, 262, 'Low', GREEN, BAND_G)
kmKey(256, 275, 'High', RED, BAND_R)
text('P = 0.0066', 317, 280, 'lg', { fontWeight: 'bold', fontSize: '6px', color: '#111' })

// ---------- panel C ----------
text('(C)', 399, 2, 'panel')
rocChart([385, 15, 173, 145], [-0.055, 1.04], [-0.058, 1.045], 17, [
  { fpr: fpr5C, tpr: tpr5C, color: ROC_COLORS[0] },
  { fpr: fpr3C, tpr: tpr3C, color: ROC_COLORS[1] },
  { fpr: fpr1C, tpr: tpr1C, color: ROC_COLORS[2] }
])
rocLegend(473, 108, rocLabels)

// ---------- panel F ----------
text('(F)', 399, 179, 'panel')
rocChart([385, 193, 173, 147], [-0.068, 1.045], [-0.044, 1.053], 20, [
  { fpr: fpr5F, tpr: tpr5F, color: ROC_COLORS[0] },
  { fpr: fprF, tpr: tpr3F, color: ROC_COLORS[1] },
  { fpr: fprF, tpr: tpr1F, color: ROC_COLORS[2] }
])
rocLegend(473, 288, rocLabelsF)

// ---------- panel G ----------
text('(G)', 3, 371, 'panel')
const gLayout = [
  { ax: 27, right: 135, top: 378, bottom: 479, x: [0.42, 2.45], y: [3.32, 5.15], lab: [67, 377] },
  { ax: 160, right: 272, top: 378, bottom: 479, x: [0.22, 2.48], y: [3.37, 5.0], lab: [208, 377] },
  { ax: 312, right: 415, top: 374, bottom: 478, x: [0.46, 2.37], y: [3.19, 5.03], lab: [349, 379] },
  { ax: 453, right: 557, top: 373, bottom: 479, x: [0.59, 2.4], y: [-5.57, 5.0], lab: [488, 381] },
  { ax: 27, right: 135, top: 498, bottom: 599, x: [0.36, 2.45], y: [2.3, 3.94], lab: [69, 503] },
  { ax: 160, right: 276, top: 498, bottom: 600, x: [0.29, 2.55], y: [1.45, 5.22], lab: [209, 503] },
  { ax: 312, right: 416, top: 497, bottom: 600, x: [0.44, 2.43], y: [3.29, 5.18], lab: [349, 503] },
  { ax: 450, right: 557, top: 498, bottom: 600, x: [0.46, 2.46], y: [0.88, 4.56], lab: [488, 503] }
]
gLayout.forEach((geo, k) => violinChart(k, geo))
</script>
</body>
</html>
